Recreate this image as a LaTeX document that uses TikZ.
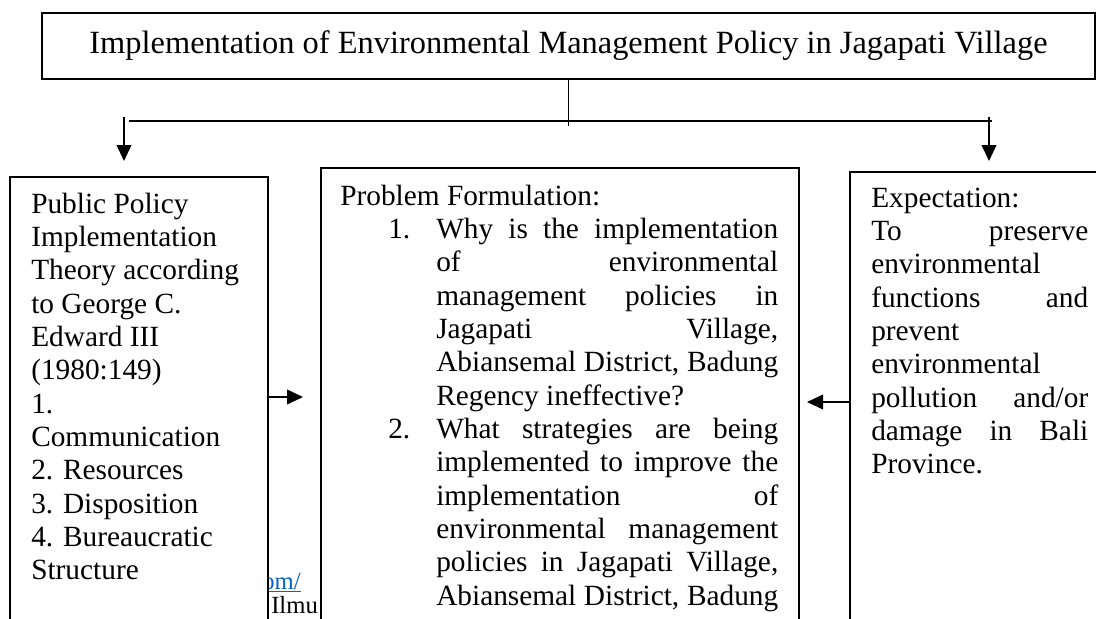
\documentclass[tikz,border=0pt]{standalone}
\usepackage{fontspec}
\setmainfont{Liberation Serif}
\usetikzlibrary{arrows.meta}
\definecolor{linkblue}{HTML}{0563C1}
\newlength{\midw}\setlength{\midw}{256.5pt}
\newlength{\rgtw}\setlength{\rgtw}{162.75pt}
\newcommand{\jline}[2]{\makebox[#1][s]{#2}}
\begin{document}
\begin{tikzpicture}[x=0.75pt,y=-0.75pt,
  box/.style={draw=black, line width=1.3pt, fill=white, inner sep=0pt},
  conn/.style={line width=1.3pt},
  arr/.style={line width=1.3pt, -{Triangle[length=12pt,width=11pt]}},
  bodytext/.style={inner sep=0pt, anchor=base west, font=\fontsize{22}{25}\selectfont},
  bgtext/.style={inner sep=0pt, anchor=base west, font=\fontsize{18.5}{21}\selectfont}]
\useasboundingbox (0,0) rectangle (1096,618);
\clip (0,0) rectangle (1096,618);

% background text partly hidden behind the boxes
\node[bgtext, text=linkblue] (link) at (262,589) {\underline{om/}};
\node[bgtext] (ilmu) at (271,613) {Ilmu};

% boxes
\node[box, anchor=center, minimum width=789.75pt, minimum height=49.5pt,
      font=\fontsize{24.3}{28}\selectfont] (title) at (568.5,46)
  {Implementation of Environmental Management Policy in Jagapati Village};
\node[box, anchor=north west, minimum width=193.5pt, minimum height=348pt] (leftbox) at (9,176) {};
\node[box, anchor=north west, minimum width=358.5pt, minimum height=360pt] (midbox) at (320,167) {};
\node[box, anchor=north west, minimum width=195pt, minimum height=345pt] (rightbox) at (849,171) {};

% texts
\node[bodytext] (lefttext) at (31,213) {\begin{minipage}[t]{180pt}
Public Policy\\
Implementation\\
Theory according\\
to George C.\\
Edward III\\
(1980:149)\\
1.\\
Communication\\
2. Resources\\
3. Disposition\\
4. Bureaucratic\\
Structure
\end{minipage}};

\node[bodytext] (midtext) at (340,205) {\begin{minipage}[t]{340pt}
Problem Formulation:\\
\hspace*{36pt}\makebox[36pt][l]{1.}\jline{\midw}{Why is the implementation}\\
\hspace*{72pt}\jline{\midw}{of environmental}\\
\hspace*{72pt}\jline{\midw}{management policies in}\\
\hspace*{72pt}\jline{\midw}{Jagapati Village,}\\
\hspace*{72pt}\jline{\midw}{Abiansemal District, Badung}\\
\hspace*{72pt}Regency ineffective?\\
\hspace*{36pt}\makebox[36pt][l]{2.}\jline{\midw}{What strategies are being}\\
\hspace*{72pt}\jline{\midw}{implemented to improve the}\\
\hspace*{72pt}\jline{\midw}{implementation of}\\
\hspace*{72pt}\jline{\midw}{environmental management}\\
\hspace*{72pt}\jline{\midw}{policies in Jagapati Village,}\\
\hspace*{72pt}\jline{\midw}{Abiansemal District, Badung}
\end{minipage}};

\node[bodytext] (righttext) at (871,207) {\begin{minipage}[t]{170pt}
Expectation:\\
\jline{\rgtw}{To preserve}\\
environmental\\
\jline{\rgtw}{functions and}\\
prevent\\
environmental\\
\jline{\rgtw}{pollution and/or}\\
\jline{\rgtw}{damage in Bali}\\
Province.
\end{minipage}};

% connectors
\coordinate (hl) at (129,121);
\coordinate (hr) at (992,121);
\coordinate (la) at (124,117);
\coordinate (ra) at (989,117);
\coordinate (lt) at (303,397);
\coordinate (rt) at (807,402);
\draw[conn] (title.south) -- (title.south |- 0,126);
\draw[conn] (hl) -- (hr);
\draw[arr] (la) -- (la |- 0,161);
\draw[arr] (ra) -- (ra |- 0,161);
\draw[arr] (leftbox.east |- lt) -- (lt);
\draw[arr] (rightbox.west |- rt) -- (rt);
\end{tikzpicture}
\end{document}
